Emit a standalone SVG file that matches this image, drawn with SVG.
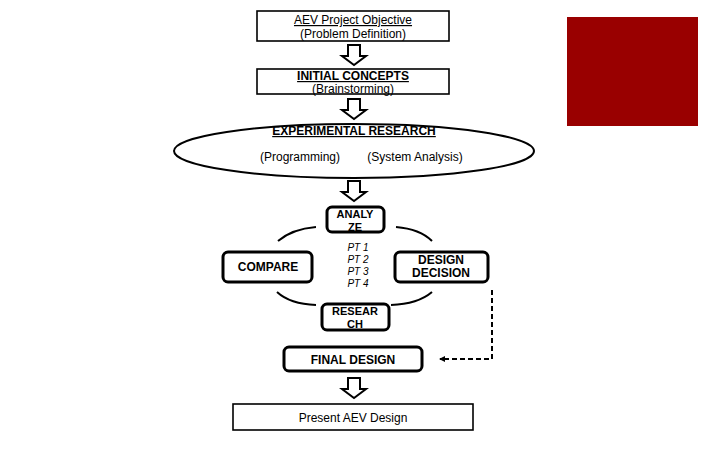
<svg xmlns="http://www.w3.org/2000/svg" width="720" height="450" viewBox="0 0 720 450">
<style>
text{font-family:"Liberation Sans",Arial,sans-serif;font-size:12px;fill:#000;text-anchor:middle}
.b{font-weight:bold}
.s{font-size:11px}
.u{text-decoration:underline}
.it{font-style:italic;font-size:10px}
.box{fill:#fff;stroke:#000;stroke-width:1.6}
.rbox{fill:#fff;stroke:#000;stroke-width:3}
.arr{fill:#fff;stroke:#000;stroke-width:2;stroke-linejoin:miter}
.arc{fill:none;stroke:#000;stroke-width:2}
</style>
<defs>
<marker id="ah" markerWidth="6" markerHeight="6" refX="5" refY="3" orient="auto" markerUnits="userSpaceOnUse">
<path d="M0,0 L6,3 L0,6 z" fill="#000"/>
</marker>
<path id="down" d="M-6,0 H6 V11 H12 L0,20 L-12,11 H-6 Z"/>
</defs>
<rect width="720" height="450" fill="#fff"/>
<rect x="567" y="17" width="131" height="109" fill="#990000"/>

<g id="n-objective"><rect class="box" x="257" y="11" width="192" height="30"/>
<text class="u" x="353" y="24">AEV Project Objective</text>
<text x="353" y="38">(Problem Definition)</text></g>

<g id="n-initial"><rect class="box" x="257" y="69" width="192" height="25"/>
<text class="b u" x="353" y="80">INITIAL CONCEPTS</text>
<text x="353" y="93">(Brainstorming)</text></g>

<g id="n-experimental"><ellipse cx="354" cy="151" rx="180" ry="27" fill="#fff" stroke="#000" stroke-width="2"/>
<text class="b u" x="354" y="135">EXPERIMENTAL RESEARCH</text>
<text x="300" y="161">(Programming)</text>
<text x="415" y="161">(System Analysis)</text></g>

<g id="n-analyze"><rect class="rbox" x="327" y="207" width="57" height="25" rx="5"/>
<text class="b s" x="355" y="218">ANALY</text>
<text class="b s" x="355" y="230.5">ZE</text></g>

<g id="n-compare"><rect class="rbox" x="223" y="252" width="89" height="30" rx="5"/>
<text class="b" x="268" y="271">COMPARE</text></g>

<g id="n-decision"><rect class="rbox" x="395" y="252" width="93" height="30" rx="5"/>
<text class="b" x="441" y="264">DESIGN</text>
<text class="b" x="441" y="277">DECISION</text></g>

<g id="n-research"><rect class="rbox" x="322" y="304" width="67" height="26" rx="5"/>
<text class="b s" x="355" y="315">RESEAR</text>
<text class="b s" x="355" y="327.5">CH</text></g>

<g id="n-pt"><text class="it" x="358" y="251">PT 1</text>
<text class="it" x="358" y="263">PT 2</text>
<text class="it" x="358" y="275">PT 3</text>
<text class="it" x="358" y="287">PT 4</text></g>

<g id="n-final"><rect class="rbox" x="284" y="347" width="138" height="24" rx="5"/>
<text class="b" x="353" y="364">FINAL DESIGN</text></g>

<g id="n-present"><rect class="box" x="233" y="404" width="240" height="26"/>
<text x="353" y="422">Present AEV Design</text></g>

<g id="connectors">
<use href="#down" class="arr" x="354" y="45"/>
<use href="#down" class="arr" x="354" y="99"/>
<use href="#down" class="arr" x="354" y="181"/>
<use href="#down" class="arr" x="354" y="378"/>
<path class="arc" d="M278,241 Q292,229 316,227"/>
<path class="arc" d="M396,227 Q420,229 432,241"/>
<path class="arc" d="M277,292 Q290,304 316,305"/>
<path class="arc" d="M391,305 Q418,304 432,292"/>
<path d="M492,290 V359 H440" fill="none" stroke="#000" stroke-width="2" stroke-dasharray="5,3" marker-end="url(#ah)"/>
</g>
</svg>
